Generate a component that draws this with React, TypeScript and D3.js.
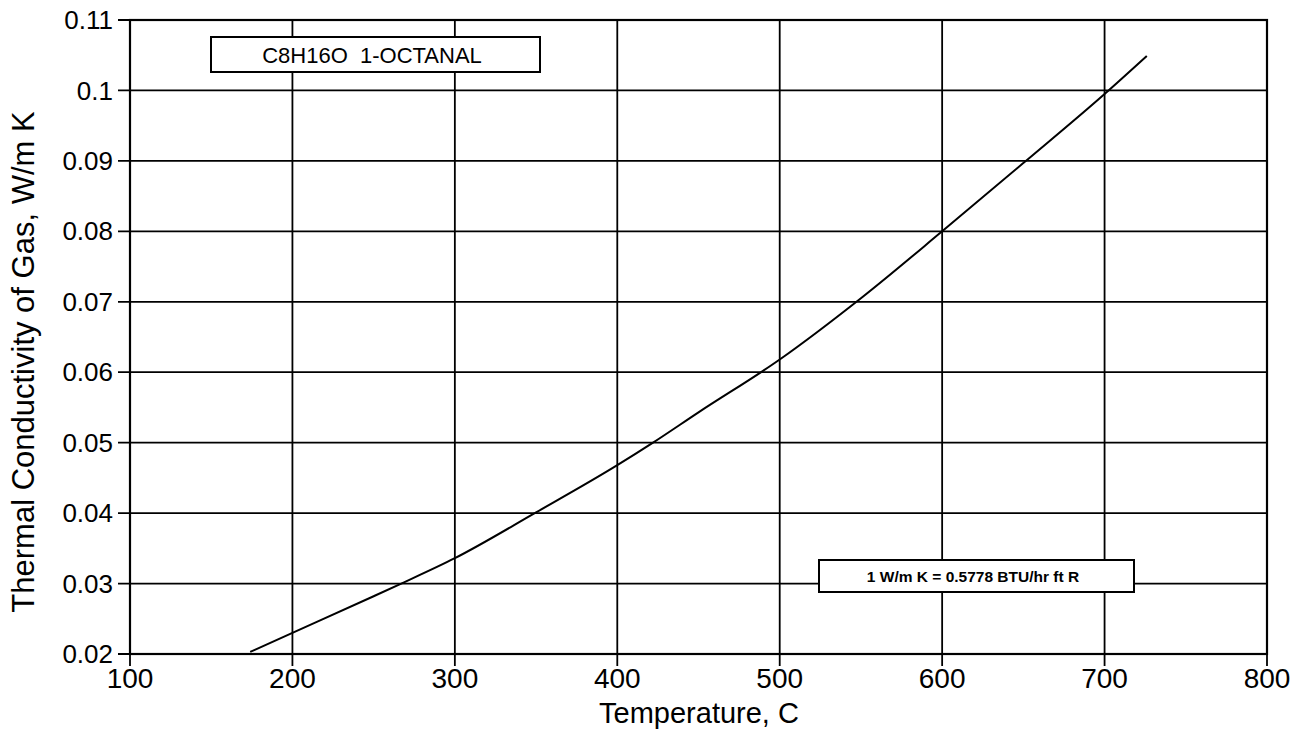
import React from "react";
import * as d3 from "d3";

const temperatures = [174, 200, 250, 267, 300, 350, 400, 422, 450, 500, 550, 600, 650, 700, 726];
const conductivity = [0.0203, 0.023, 0.0282, 0.03, 0.0336, 0.0401, 0.0468, 0.05, 0.0543, 0.0618, 0.0705, 0.08, 0.0897, 0.0995, 0.1049];
const xTicks = [100, 200, 300, 400, 500, 600, 700, 800];
const yTicks = [0.02, 0.03, 0.04, 0.05, 0.06, 0.07, 0.08, 0.09, 0.1, 0.11];
const yTickLabels = ["0.02", "0.03", "0.04", "0.05", "0.06", "0.07", "0.08", "0.09", "0.1", "0.11"];
const titleText = "C8H16O\u00A0\u00A01-OCTANAL";
const noteText = "1 W/m K = 0.5778 BTU/hr ft R";
const xTitle = "Temperature, C";
const yTitle = "Thermal Conductivity of Gas, W/m K";

export default function App() {
  const W = 1308, H = 737;
  const left = 130, right = 1267, top = 20, bottom = 654;
  const x = d3.scaleLinear().domain([100, 800]).range([left, right]);
  const y = d3.scaleLinear().domain([0.02, 0.11]).range([bottom, top]);
  const pts = temperatures.map((t, i) => [t, conductivity[i]] as [number, number]);
  const line = d3.line<[number, number]>().x(d => x(d[0])).y(d => y(d[1])).curve(d3.curveMonotoneX);
  const font = "Liberation Sans, Arial, Helvetica, sans-serif";
  return (
    <svg width={W} height={H} style={{ position: "absolute", left: 0, top: 0, background: "#fff" }} fontFamily={font}>
      {xTicks.map(t => (
        <g key={"x" + t}>
          <line x1={x(t)} x2={x(t)} y1={top} y2={bottom + 12} stroke="#000" strokeWidth={1.8} />
          <text x={x(t)} y={688} textAnchor="middle" fontSize={28}>{t}</text>
        </g>
      ))}
      {yTicks.map((t, i) => (
        <g key={"y" + t}>
          <line x1={left - 12} x2={right} y1={y(t)} y2={y(t)} stroke="#000" strokeWidth={1.8} />
          <text x={113} y={y(t)} dy="0.35em" textAnchor="end" fontSize={26}>{yTickLabels[i]}</text>
        </g>
      ))}
      <rect x={left} y={top} width={right - left} height={bottom - top} fill="none" stroke="#000" strokeWidth={2.2} />
      <path d={line(pts) || ""} fill="none" stroke="#000" strokeWidth={2} />
      <rect x={211} y={37} width={329} height={35} fill="#fff" stroke="#000" strokeWidth={2} />
      <text x={372} y={63} textAnchor="middle" fontSize={22}>{titleText}</text>
      <rect x={819} y={560} width={315} height={32} fill="#fff" stroke="#000" strokeWidth={2} />
      <text x={973} y={582} textAnchor="middle" fontSize={15.5} fontWeight="bold">{noteText}</text>
      <text x={699} y={723} textAnchor="middle" fontSize={29}>{xTitle}</text>
      <text transform={`translate(34,362) rotate(-90)`} textAnchor="middle" fontSize={31}>{yTitle}</text>
    </svg>
  );
}
